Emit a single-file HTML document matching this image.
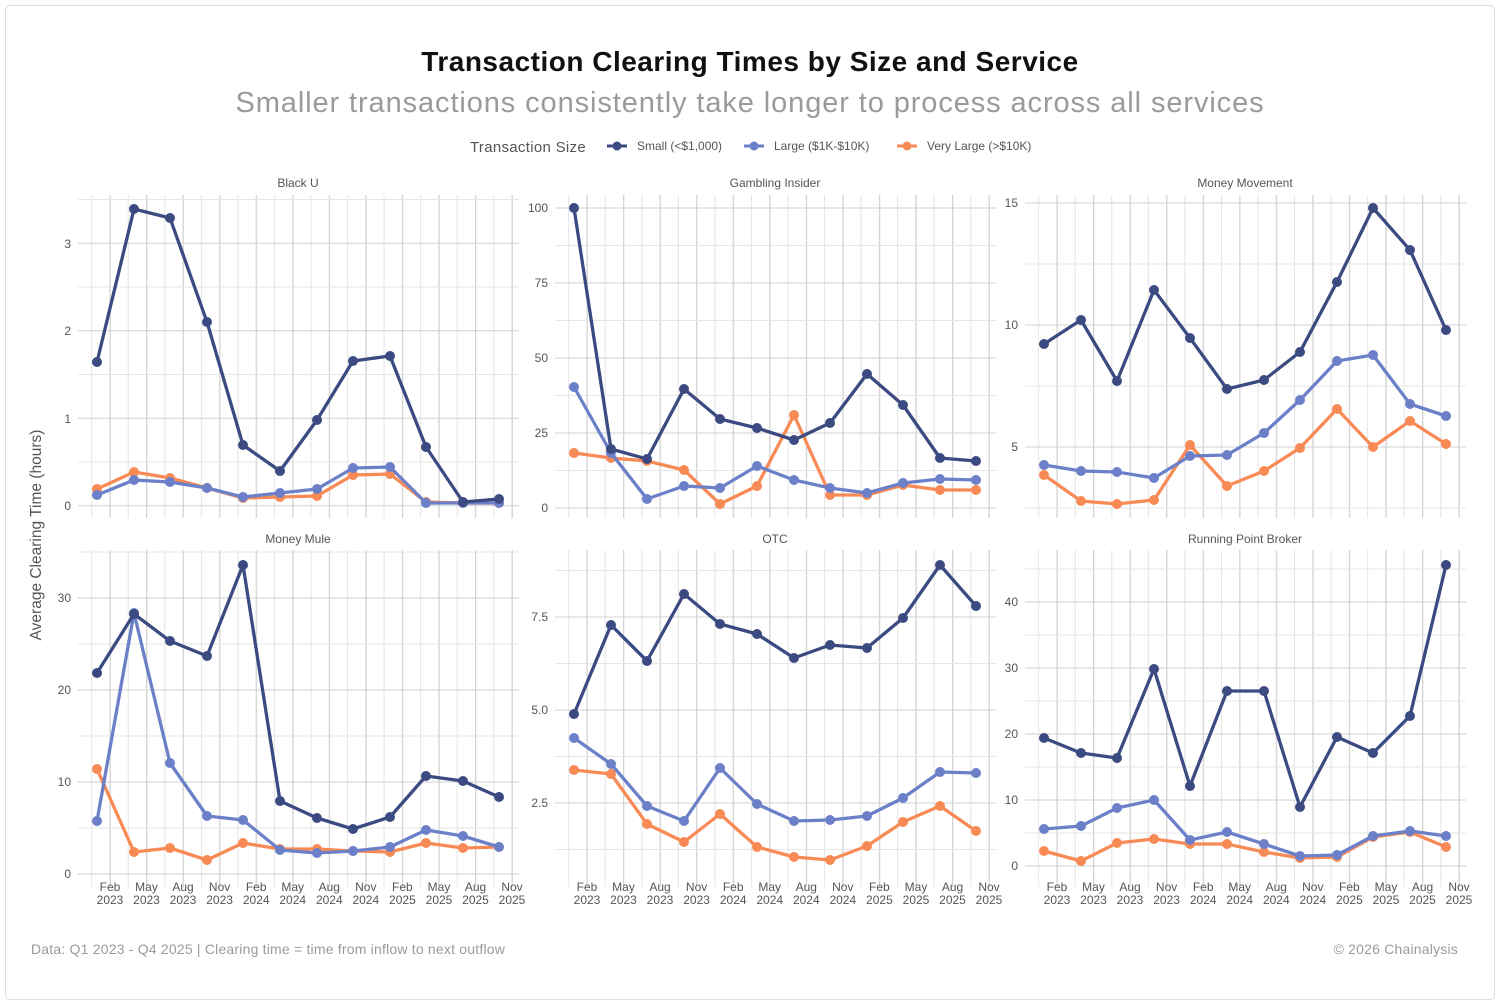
<!DOCTYPE html>
<html><head><meta charset="utf-8"><style>
html,body{margin:0;padding:0;background:#fff;}
svg{display:block;font-family:"Liberation Sans",sans-serif;}
</style></head><body>
<svg width="1500" height="1007" viewBox="0 0 1500 1007" xmlns="http://www.w3.org/2000/svg">
<defs>
<pattern id="vg" patternUnits="userSpaceOnUse" x="91.2" y="0" width="36.55" height="10">
<rect x="0" y="0" width="1" height="10" fill="#e4e4e4"/>
<rect x="18.27" y="0" width="1.3" height="10" fill="#d2d2d2"/>
</pattern>
<marker id="ms" markerUnits="userSpaceOnUse" markerWidth="12" markerHeight="12" refX="6" refY="6"><circle cx="6" cy="6" r="5" fill="#3b4a80"/></marker>
<marker id="ml" markerUnits="userSpaceOnUse" markerWidth="12" markerHeight="12" refX="6" refY="6"><circle cx="6" cy="6" r="5" fill="#6b80c8"/></marker>
<marker id="mv" markerUnits="userSpaceOnUse" markerWidth="12" markerHeight="12" refX="6" refY="6"><circle cx="6" cy="6" r="5" fill="#f88a55"/></marker>
</defs>
<rect x="5.5" y="5.5" width="1489" height="994" rx="4" fill="#fff" stroke="#ddd"/>
<text x="750" y="71" text-anchor="middle" font-size="28" font-weight="bold" fill="#111" letter-spacing="0.5">Transaction Clearing Times by Size and Service</text>
<text x="750" y="112" text-anchor="middle" font-size="29" fill="#9a9a9a" letter-spacing="0.9">Smaller transactions consistently take longer to process across all services</text>
<text x="470" y="152" font-size="15" fill="#555" letter-spacing="0.3">Transaction Size</text>
<line x1="607" y1="146" x2="627" y2="146" stroke="#3b4a80" stroke-width="3"/><circle cx="617" cy="146" r="4.5" fill="#3b4a80"/>
<text x="637" y="150" font-size="12" fill="#555">Small (&lt;$1,000)</text>
<line x1="744" y1="146" x2="764" y2="146" stroke="#6b80c8" stroke-width="3"/><circle cx="754" cy="146" r="4.5" fill="#6b80c8"/>
<text x="774" y="150" font-size="12" fill="#555">Large ($1K-$10K)</text>
<line x1="897" y1="146" x2="917" y2="146" stroke="#f88a55" stroke-width="3"/><circle cx="907" cy="146" r="4.5" fill="#f88a55"/>
<text x="927" y="150" font-size="12" fill="#555">Very Large (&gt;$10K)</text>
<text transform="translate(41,535) rotate(-90)" text-anchor="middle" font-size="15.5" fill="#555">Average Clearing Time (hours)</text>

<g font-size="12" fill="#555" text-anchor="middle">
<text x="298" y="187">Black U</text><text x="775" y="187">Gambling Insider</text><text x="1245" y="187">Money Movement</text>
<text x="298" y="543">Money Mule</text><text x="775" y="543">OTC</text><text x="1245" y="543">Running Point Broker</text>
</g>

<g>
<rect x="91" y="195" width="422" height="323" fill="url(#vg)"/>
<rect x="91" y="550" width="422" height="337" fill="url(#vg)"/>
<g transform="translate(477,0)"><rect x="91" y="195" width="422" height="323" fill="url(#vg)"/><rect x="91" y="550" width="422" height="337" fill="url(#vg)"/></g>
<g transform="translate(947,0)"><rect x="91" y="195" width="422" height="323" fill="url(#vg)"/><rect x="91" y="550" width="422" height="337" fill="url(#vg)"/></g>
</g>
<g stroke-width="1">
<path stroke="#d2d2d2" d="M78 505.7H519M78 418.2H519M78 330.7H519M78 243.3H519"/>
<path stroke="#e6e6e6" d="M78 462H519M78 374.5H519M78 287H519M78 199.5H519"/>
<path stroke="#d2d2d2" d="M555 508H996M555 433H996M555 358H996M555 283H996M555 208H996"/>
<path stroke="#e6e6e6" d="M555 470.5H996M555 395.5H996M555 320.5H996M555 245.5H996"/>
<path stroke="#d2d2d2" d="M1025 447H1466M1025 325H1466M1025 203H1466"/>
<path stroke="#e6e6e6" d="M1025 508H1466M1025 386H1466M1025 264H1466"/>
<path stroke="#d2d2d2" d="M78 874H519M78 782H519M78 690H519M78 598H519"/>
<path stroke="#e6e6e6" d="M78 828H519M78 736H519M78 644H519M78 552H519"/>
<path stroke="#d2d2d2" d="M555 803H996M555 710H996M555 617H996"/>
<path stroke="#e6e6e6" d="M555 849.5H996M555 756.5H996M555 663.5H996M555 570.5H996"/>
<path stroke="#d2d2d2" d="M1025 866H1466M1025 800H1466M1025 734H1466M1025 668H1466M1025 602H1466"/>
<path stroke="#e6e6e6" d="M1025 833H1466M1025 767H1466M1025 701H1466M1025 635H1466M1025 569H1466"/>
</g>
<g font-size="12" fill="#555" text-anchor="end">
<text x="71" y="510">0</text><text x="71" y="423">1</text><text x="71" y="335">2</text><text x="71" y="248">3</text>
<text x="548" y="512">0</text><text x="548" y="437">25</text><text x="548" y="362">50</text><text x="548" y="287">75</text><text x="548" y="212">100</text>
<text x="1018" y="451">5</text><text x="1018" y="329">10</text><text x="1018" y="207">15</text>
<text x="71" y="878">0</text><text x="71" y="786">10</text><text x="71" y="694">20</text><text x="71" y="602">30</text>
<text x="548" y="807">2.5</text><text x="548" y="714">5.0</text><text x="548" y="621">7.5</text>
<text x="1018" y="870">0</text><text x="1018" y="804">10</text><text x="1018" y="738">20</text><text x="1018" y="672">30</text><text x="1018" y="606">40</text>
</g>
<g font-size="12" fill="#555" text-anchor="middle">
<text x="110" y="891">Feb</text><text x="110" y="904">2023</text>
<text x="146.5" y="891">May</text><text x="146.5" y="904">2023</text>
<text x="183" y="891">Aug</text><text x="183" y="904">2023</text>
<text x="219.6" y="891">Nov</text><text x="219.6" y="904">2023</text>
<text x="256.2" y="891">Feb</text><text x="256.2" y="904">2024</text>
<text x="292.7" y="891">May</text><text x="292.7" y="904">2024</text>
<text x="329.3" y="891">Aug</text><text x="329.3" y="904">2024</text>
<text x="365.8" y="891">Nov</text><text x="365.8" y="904">2024</text>
<text x="402.4" y="891">Feb</text><text x="402.4" y="904">2025</text>
<text x="439" y="891">May</text><text x="439" y="904">2025</text>
<text x="475.5" y="891">Aug</text><text x="475.5" y="904">2025</text>
<text x="512" y="891">Nov</text><text x="512" y="904">2025</text>
</g>
<g font-size="12" fill="#555" text-anchor="middle" transform="translate(477,0)">
<text x="110" y="891">Feb</text><text x="110" y="904">2023</text>
<text x="146.5" y="891">May</text><text x="146.5" y="904">2023</text>
<text x="183" y="891">Aug</text><text x="183" y="904">2023</text>
<text x="219.6" y="891">Nov</text><text x="219.6" y="904">2023</text>
<text x="256.2" y="891">Feb</text><text x="256.2" y="904">2024</text>
<text x="292.7" y="891">May</text><text x="292.7" y="904">2024</text>
<text x="329.3" y="891">Aug</text><text x="329.3" y="904">2024</text>
<text x="365.8" y="891">Nov</text><text x="365.8" y="904">2024</text>
<text x="402.4" y="891">Feb</text><text x="402.4" y="904">2025</text>
<text x="439" y="891">May</text><text x="439" y="904">2025</text>
<text x="475.5" y="891">Aug</text><text x="475.5" y="904">2025</text>
<text x="512" y="891">Nov</text><text x="512" y="904">2025</text>
</g>
<g font-size="12" fill="#555" text-anchor="middle" transform="translate(947,0)">
<text x="110" y="891">Feb</text><text x="110" y="904">2023</text>
<text x="146.5" y="891">May</text><text x="146.5" y="904">2023</text>
<text x="183" y="891">Aug</text><text x="183" y="904">2023</text>
<text x="219.6" y="891">Nov</text><text x="219.6" y="904">2023</text>
<text x="256.2" y="891">Feb</text><text x="256.2" y="904">2024</text>
<text x="292.7" y="891">May</text><text x="292.7" y="904">2024</text>
<text x="329.3" y="891">Aug</text><text x="329.3" y="904">2024</text>
<text x="365.8" y="891">Nov</text><text x="365.8" y="904">2024</text>
<text x="402.4" y="891">Feb</text><text x="402.4" y="904">2025</text>
<text x="439" y="891">May</text><text x="439" y="904">2025</text>
<text x="475.5" y="891">Aug</text><text x="475.5" y="904">2025</text>
<text x="512" y="891">Nov</text><text x="512" y="904">2025</text>
</g>

<g fill="none" stroke-width="3.3" stroke-linejoin="round">
<polyline stroke="#f88a55" marker-start="url(#mv)" marker-mid="url(#mv)" marker-end="url(#mv)" points="97,489 134,472 170,478 207,488 243,498 280,497 317,496 353,475 390,474 426,502 463,503 499,503"/>
<polyline stroke="#6b80c8" marker-start="url(#ml)" marker-mid="url(#ml)" marker-end="url(#ml)" points="97,495 134,480 170,482 207,488 243,497 280,493 317,489 353,468 390,467 426,503 463,503 499,503"/>
<polyline stroke="#3b4a80" marker-start="url(#ms)" marker-mid="url(#ms)" marker-end="url(#ms)" points="97,362 134,209 170,218 207,322 243,445 280,471 317,420 353,361 390,356 426,447 463,502 499,499"/>
<polyline stroke="#f88a55" marker-start="url(#mv)" marker-mid="url(#mv)" marker-end="url(#mv)" points="97,769 134,852 170,848 207,860 243,843 280,849 317,849 353,851 390,852 426,843 463,848 499,847"/>
<polyline stroke="#6b80c8" marker-start="url(#ml)" marker-mid="url(#ml)" marker-end="url(#ml)" points="97,821 134,613 170,763 207,816 243,820 280,850 317,853 353,851 390,847 426,830 463,836 499,847"/>
<polyline stroke="#3b4a80" marker-start="url(#ms)" marker-mid="url(#ms)" marker-end="url(#ms)" points="97,673 134,614 170,641 207,656 243,565 280,801 317,818 353,829 390,817 426,776 463,781 499,797"/>
</g>
<g fill="none" stroke-width="3.3" stroke-linejoin="round" transform="translate(477,0)">
<polyline stroke="#f88a55" marker-start="url(#mv)" marker-mid="url(#mv)" marker-end="url(#mv)" points="97,453 134,458 170,461 207,470 243,504 280,486 317,415 353,495 390,495 426,485 463,490 499,490"/>
<polyline stroke="#6b80c8" marker-start="url(#ml)" marker-mid="url(#ml)" marker-end="url(#ml)" points="97,387 134,453 170,499 207,486 243,488 280,466 317,480 353,488 390,493 426,483 463,479 499,480"/>
<polyline stroke="#3b4a80" marker-start="url(#ms)" marker-mid="url(#ms)" marker-end="url(#ms)" points="97,208 134,449 170,459 207,389 243,419 280,428 317,440 353,423 390,374 426,405 463,458 499,461"/>
<polyline stroke="#f88a55" marker-start="url(#mv)" marker-mid="url(#mv)" marker-end="url(#mv)" points="97,770 134,774 170,824 207,842 243,814 280,847 317,857 353,860 390,846 426,822 463,806 499,831"/>
<polyline stroke="#6b80c8" marker-start="url(#ml)" marker-mid="url(#ml)" marker-end="url(#ml)" points="97,738 134,764 170,806 207,821 243,768 280,804 317,821 353,820 390,816 426,798 463,772 499,773"/>
<polyline stroke="#3b4a80" marker-start="url(#ms)" marker-mid="url(#ms)" marker-end="url(#ms)" points="97,714 134,625 170,661 207,594 243,624 280,634 317,658 353,645 390,648 426,618 463,565 499,606"/>
</g>
<g fill="none" stroke-width="3.3" stroke-linejoin="round" transform="translate(947,0)">
<polyline stroke="#f88a55" marker-start="url(#mv)" marker-mid="url(#mv)" marker-end="url(#mv)" points="97,475 134,501 170,504 207,500 243,445 280,486 317,471 353,448 390,409 426,447 463,421 499,444"/>
<polyline stroke="#6b80c8" marker-start="url(#ml)" marker-mid="url(#ml)" marker-end="url(#ml)" points="97,465 134,471 170,472 207,478 243,456 280,455 317,433 353,400 390,361 426,355 463,404 499,416"/>
<polyline stroke="#3b4a80" marker-start="url(#ms)" marker-mid="url(#ms)" marker-end="url(#ms)" points="97,344 134,320 170,381 207,290 243,338 280,389 317,380 353,352 390,282 426,208 463,250 499,330"/>
<polyline stroke="#f88a55" marker-start="url(#mv)" marker-mid="url(#mv)" marker-end="url(#mv)" points="97,851 134,861 170,843 207,839 243,844 280,844 317,852 353,858 390,857 426,837 463,832 499,847"/>
<polyline stroke="#6b80c8" marker-start="url(#ml)" marker-mid="url(#ml)" marker-end="url(#ml)" points="97,829 134,826 170,808 207,800 243,840 280,832 317,844 353,856 390,855 426,836 463,831 499,836"/>
<polyline stroke="#3b4a80" marker-start="url(#ms)" marker-mid="url(#ms)" marker-end="url(#ms)" points="97,738 134,753 170,758 207,669 243,786 280,691 317,691 353,807 390,737 426,753 463,716 499,565"/>
</g>

<text x="31" y="954" font-size="14" fill="#9a9a9a" letter-spacing="0.2">Data: Q1 2023 - Q4 2025 | Clearing time = time from inflow to next outflow</text>
<text x="1458" y="954" text-anchor="end" font-size="14" fill="#9a9a9a" letter-spacing="0.2">© 2026 Chainalysis</text>
</svg>
</body></html>
